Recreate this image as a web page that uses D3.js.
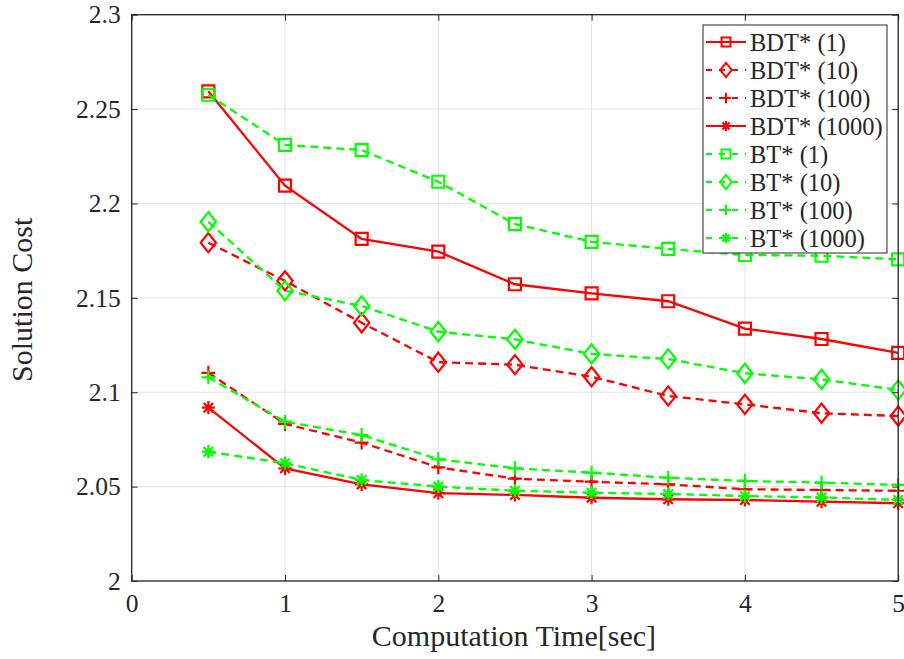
<!DOCTYPE html>
<html><head><meta charset="utf-8">
<script src="https://cdn.jsdelivr.net/npm/d3@7"></script>
<style>
html,body{margin:0;padding:0;background:#fff;}
svg{display:block;}
text{font-family:"Liberation Serif","Times New Roman",serif;fill:#262626;}
</style></head>
<body>
<svg id="chart" width="904" height="659"></svg>
<script>
const times = [0.5, 1, 1.5, 2, 2.5, 3, 3.5, 4, 4.5, 5];
const bdt1    = [2.2594, 2.2094, 2.1812, 2.1745, 2.1572, 2.1524, 2.1482, 2.1337, 2.1282, 2.1208];
const bdt10   = [2.1792, 2.1590, 2.1368, 2.1159, 2.1146, 2.1082, 2.0980, 2.0936, 2.0889, 2.0874];
const bdt100  = [2.1103, 2.0832, 2.0733, 2.0602, 2.0542, 2.0526, 2.0512, 2.0486, 2.0482, 2.0478];
const bdt1000 = [2.0918, 2.0597, 2.0512, 2.0465, 2.0456, 2.0441, 2.0433, 2.0429, 2.0420, 2.0412];
const bt1     = [2.2576, 2.2310, 2.2283, 2.2115, 2.1891, 2.1797, 2.1759, 2.1727, 2.1723, 2.1704];
const bt10    = [2.1903, 2.1538, 2.1457, 2.1321, 2.1280, 2.1203, 2.1176, 2.1100, 2.1068, 2.1012];
const bt100   = [2.1079, 2.0844, 2.0773, 2.0645, 2.0597, 2.0574, 2.0547, 2.0530, 2.0521, 2.0509];
const bt1000  = [2.0685, 2.0624, 2.0535, 2.0500, 2.0478, 2.0468, 2.0461, 2.0450, 2.0443, 2.0429];
const seriesNames = ["BDT* (1)", "BDT* (10)", "BDT* (100)", "BDT* (1000)", "BT* (1)", "BT* (10)", "BT* (100)", "BT* (1000)"];
const xTicks = [0, 1, 2, 3, 4, 5];
const xTickLabels = ["0", "1", "2", "3", "4", "5"];
const yTicks = [2, 2.05, 2.1, 2.15, 2.2, 2.25, 2.3];
const yTickLabels = ["2", "2.05", "2.1", "2.15", "2.2", "2.25", "2.3"];
const xLabel = "Computation Time[sec]";
const yLabel = "Solution Cost";

const RED = "#ff0000", GREEN = "#00ff00";
const styles = [
  {c: RED, dash: null, m: "square"},
  {c: RED, dash: "8,5", m: "diamond"},
  {c: RED, dash: "8,5", m: "plus"},
  {c: RED, dash: null, m: "star"},
  {c: GREEN, dash: "8,5", m: "square"},
  {c: GREEN, dash: "8,5", m: "diamond"},
  {c: GREEN, dash: "8,5", m: "plus"},
  {c: GREEN, dash: "8,5", m: "star"}
];
const allSeries = [bdt1, bdt10, bdt100, bdt1000, bt1, bt10, bt100, bt1000];

const L = 131.7, R = 898.2, T = 14.7, B = 581;
const x = d3.scaleLinear().domain([0, 5]).range([L, R]);
const y = d3.scaleLinear().domain([2, 2.3]).range([B, T]);

const svg = d3.select("#chart");
const axisCol = "#262626";

// grid
const grid = svg.append("g");
grid.selectAll("line.gx").data(xTicks).enter().append("line")
  .attr("x1", d => x(d)).attr("x2", d => x(d)).attr("y1", T).attr("y2", B)
  .attr("stroke", "#e3e3e3").attr("stroke-width", 1);
grid.selectAll("line.gy").data(yTicks).enter().append("line")
  .attr("x1", L).attr("x2", R).attr("y1", d => y(d)).attr("y2", d => y(d))
  .attr("stroke", "#e3e3e3").attr("stroke-width", 1);

// markers (s = nominal size)
function markerPath(type, s) {
  const p = d3.path();
  if (type === "square") {
    p.rect(-s/2, -s/2, s, s);
  } else if (type === "diamond") {
    const h = s * 0.8, w = s * 0.64;
    p.moveTo(0, -h); p.lineTo(w, 0); p.lineTo(0, h); p.lineTo(-w, 0); p.closePath();
  } else if (type === "plus") {
    const a = s * 0.58;
    p.moveTo(-a, 0); p.lineTo(a, 0); p.moveTo(0, -a); p.lineTo(0, a);
  } else if (type === "star") {
    const a = s * 0.55, b = a * 0.72;
    p.moveTo(-a, 0); p.lineTo(a, 0); p.moveTo(0, -a); p.lineTo(0, a);
    p.moveTo(-b, -b); p.lineTo(b, b); p.moveTo(-b, b); p.lineTo(b, -b);
  }
  return p.toString();
}

const line = d3.line().x((d, i) => x(times[i])).y(d => y(d));
const plot = svg.append("g");
allSeries.forEach((vals, k) => {
  const st = styles[k];
  const g = plot.append("g");
  g.append("path").datum(vals).attr("d", line)
    .attr("fill", "none").attr("stroke", st.c).attr("stroke-width", 2.3)
    .attr("stroke-dasharray", st.dash);
  g.selectAll("path.m").data(vals).enter().append("path")
    .attr("transform", (d, i) => `translate(${x(times[i])},${y(d)})`)
    .attr("d", markerPath(st.m, 12))
    .attr("fill", "none").attr("stroke", st.c).attr("stroke-width", 2.2);
});

// axes box
const ax = svg.append("g");
ax.append("rect").attr("x", L).attr("y", T).attr("width", R - L).attr("height", B - T)
  .attr("fill", "none").attr("stroke", axisCol).attr("stroke-width", 1.3);

const xAxis = d3.axisBottom(x).tickValues(xTicks).tickFormat((d, i) => xTickLabels[i]).tickSize(-6).tickPadding(13);
const gx = svg.append("g").attr("transform", `translate(0,${B})`).call(xAxis);
gx.select(".domain").remove();
gx.selectAll("line").attr("stroke", axisCol);
gx.selectAll("text").attr("font-size", 25.5).attr("fill", axisCol).attr("dy", "0.71em");
const xTop = d3.axisTop(x).tickValues(xTicks).tickFormat("").tickSize(-6);
const gxt = svg.append("g").attr("transform", `translate(0,${T})`).call(xTop);
gxt.select(".domain").remove(); gxt.selectAll("line").attr("stroke", axisCol);

const yAxis = d3.axisLeft(y).tickValues(yTicks).tickFormat((d, i) => yTickLabels[i]).tickSize(-6).tickPadding(11);
const gy = svg.append("g").attr("transform", `translate(${L},0)`).call(yAxis);
gy.select(".domain").remove();
gy.selectAll("line").attr("stroke", axisCol);
gy.selectAll("text").attr("font-size", 25.5).attr("fill", axisCol);
const yRight = d3.axisRight(y).tickValues(yTicks).tickFormat("").tickSize(-6);
const gyr = svg.append("g").attr("transform", `translate(${R},0)`).call(yRight);
gyr.select(".domain").remove(); gyr.selectAll("line").attr("stroke", axisCol);

// axis labels
svg.append("text").attr("x", (L + R) / 2 - 1).attr("y", 646).attr("text-anchor", "middle")
  .attr("font-size", 30).text(xLabel);
svg.append("text").attr("transform", `translate(32,${(T + B) / 2 + 2}) rotate(-90)`)
  .attr("text-anchor", "middle").attr("font-size", 30).text(yLabel);

// legend
const lg = svg.append("g");
lg.append("rect").attr("x", 703).attr("y", 25).attr("width", 184).attr("height", 228)
  .attr("fill", "#fff").attr("stroke", axisCol).attr("stroke-width", 1);
seriesNames.forEach((name, k) => {
  const st = styles[k];
  const cy = 42 + k * 28;
  lg.append("line").attr("x1", 706).attr("x2", 746).attr("y1", cy).attr("y2", cy)
    .attr("stroke", st.c).attr("stroke-width", 2.2).attr("stroke-dasharray", st.dash ? "6,7" : null);
  lg.append("path").attr("transform", `translate(726,${cy})`).attr("d", markerPath(st.m, 9))
    .attr("fill", "none").attr("stroke", st.c).attr("stroke-width", 2);
  lg.append("text").attr("x", 750).attr("y", cy).attr("dy", "0.35em")
    .attr("font-size", 24.5).attr("fill", "#000").text(name);
});
</script>
</body></html>
